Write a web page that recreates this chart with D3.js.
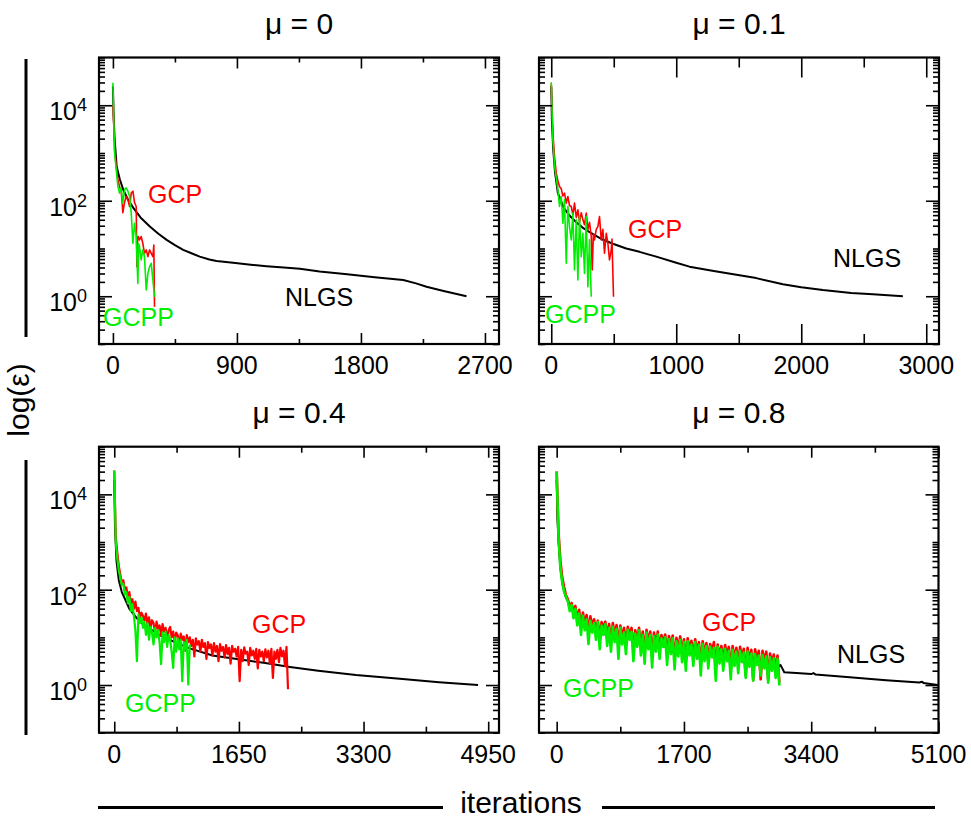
<!DOCTYPE html>
<html><head><meta charset="utf-8">
<script src="https://cdn.jsdelivr.net/npm/d3@7"></script>
<style>
body{margin:0;background:#fff;}
text{font-family:"Liberation Sans",Arial,Helvetica,sans-serif;fill:#000;}
</style></head><body>
<svg id="c" width="971" height="821"></svg>
<script>
// ---------------- DATA (log10 of the error ε vs iteration) ----------------
const panelTitles = ["μ = 0", "μ = 0.1", "μ = 0.4", "μ = 0.8"];
const xMajorTicks = [[0,900,1800,2700],[0,1000,2000,3000],[0,1650,3300,4950],[0,1700,3400,5100]];
const xMinorTicks = [[450,1350,2250],[500,1500,2500],[825,2475,4125],[850,2550,4250]];
const yMajorTicks = [1, 100, 10000];
const yMajorExp = ["0","2","4"];

// μ = 0
const mu0_nlgs_iter = [0,5,12,27,50,75,110,148,200,268,330,390,450,510,570,630,700,752,872,1000,1115,1240,1357,1500,1700,1900,2107,2200,2276,2400,2566];
const mu0_nlgs_log  = [4.4,3.8,3.3,2.72,2.45,2.23,2.02,1.85,1.65,1.46,1.31,1.18,1.07,0.97,0.9,0.83,0.77,0.74,0.70,0.66,0.63,0.60,0.575,0.52,0.46,0.40,0.34,0.27,0.20,0.11,0.0];
const mu0_gcp_iter = [0,6,12,24,36,48,60,66,72,84,96,109,121,133,145,157,169,174,180,184,193,205,217,229,242,254,266,278,290,297,302];
const mu0_gcp_log  = [4.0,3.6,3.07,2.72,2.44,2.3,2.2,2.0,1.75,1.96,2.09,2.02,1.88,2.16,2.2,1.96,1.88,0.62,1.2,1.25,1.18,1.25,1.11,0.9,0.97,0.83,0.97,0.9,0.83,1.07,-0.22];
const mu0_gcpp_iter = [0,6,12,24,36,48,60,72,84,96,109,121,133,145,157,169,181,187,193,205,217,229,242,254,266,278,290,302];
const mu0_gcpp_log  = [4.47,3.7,3.0,2.65,2.3,2.16,2.27,1.95,2.23,2.27,2.2,2.09,1.74,1.11,1.53,1.25,0.27,1.1,1.04,0.76,0.97,0.83,0.13,0.48,0.62,0.69,0.34,-0.01];

// μ = 0.1
const mu01_nlgs_iter = [0,5,15,30,53,100,150,200,260,320,400,493,600,706,840,1000,1106,1300,1506,1640,1853,2000,2173,2400,2573,2813];
const mu01_nlgs_log  = [4.4,3.7,3.1,2.6,2.16,1.85,1.68,1.55,1.42,1.32,1.2,1.1,1.0,0.93,0.83,0.7,0.62,0.53,0.44,0.38,0.25,0.19,0.13,0.07,0.04,0.0];
const mu01_gcp_iter = [0,13,27,40,53,66,80,93,106,120,133,146,160,173,186,200,213,226,240,253,266,280,293,306,320,328,337,346,360,373,386,400,413,426,440,453,466,480,486,493,498];
const mu01_gcp_log  = [4.45,3.42,2.9,2.58,2.42,2.3,2.25,2.1,2.16,1.95,2.09,1.9,1.88,1.7,1.95,1.65,1.81,1.55,1.75,1.6,1.5,1.74,1.4,1.55,1.25,0.55,1.3,1.18,1.4,1.46,1.67,1.18,1.4,0.9,1.32,1.11,0.76,0.97,1.2,0.48,-0.01];
const mu01_gcpp_iter = [0,13,27,53,66,80,93,106,120,133,146,160,173,186,200,213,226,240,253,266,280,293,306,320];
const mu01_gcpp_log  = [4.48,3.28,2.72,2.23,1.88,2.09,1.53,2.02,0.69,1.88,1.46,1.18,1.74,0.55,1.6,0.34,1.67,0.83,1.32,0.48,1.67,0.2,1.18,-0.01];

// μ = 0.4
const mu04_nlgs_iter = [0,10,30,60,100,200,300,400,600,800,1000,1300,1600,2000,2325,2700,3200,3780,4300,4816];
const mu04_nlgs_log  = [4.3,3.3,2.6,2.2,1.95,1.6,1.4,1.25,1.05,0.9,0.77,0.62,0.55,0.46,0.38,0.3,0.21,0.13,0.06,0.0];
const mu04_step = 20;
const mu04_gcp_log = [
 4.5,3.1,2.78,2.5,2.32,2.14,2.2,2.0,2.05,1.85,
 1.95,1.72,1.8,1.6,1.75,1.55,1.62,1.4,1.52,1.45,
 1.35,1.5,1.28,1.42,1.2,1.36,1.3,1.1,1.33,1.18,
 1.25,1.05,1.28,1.12,1.2,0.95,1.15,1.22,1.0,1.12,
 0.9,1.1,1.05,0.8,1.08,0.95,1.02,0.72,1.05,0.9,
 1.0,0.82,0.95,0.6,0.98,0.85,0.92,0.7,0.95,0.8,
 0.88,0.55,0.9,0.78,0.85,0.62,0.88,0.7,0.82,0.5,
 0.86,0.72,0.8,0.58,0.84,0.65,0.78,0.45,0.82,0.7,
 0.76,0.6,0.8,0.08,0.74,0.5,0.79,0.66,0.7,0.42,
 0.78,0.62,0.72,0.55,0.76,0.35,0.74,0.6,0.7,0.5,
 0.75,0.58,0.72,0.45,0.76,0.15,0.7,0.55,0.74,0.48,
 0.78,0.6,0.72,0.4,0.8,-0.09];
const mu04_gcpp_log = [
 4.5,3.0,2.65,2.4,2.25,2.1,2.12,1.9,1.95,1.72,
 1.85,1.55,1.7,1.45,1.14,0.5,1.48,1.3,1.42,1.2,
 1.32,1.05,1.3,0.95,1.22,1.1,0.85,1.2,1.0,1.15,
 0.9,0.44,1.1,0.9,1.12,0.8,1.05,0.95,0.7,0.36,
 1.0,0.7,0.98,0.75,0.95,0.08,0.9,0.75,0.95,0.01,0.85];

// μ = 0.8
const mu08_nlgs_iter = [0,10,25,50,80,120,200,300,400,600,850,1300,1750,2200,2600,2977,2990,3010,3040,3200,3400,3430,3460,3955,4400,4844,4880,4900,5089];
const mu08_nlgs_log  = [4.3,3.5,3.0,2.45,2.1,1.85,1.6,1.45,1.32,1.15,1.02,0.85,0.72,0.6,0.5,0.4,0.42,0.36,0.27,0.25,0.23,0.25,0.22,0.16,0.10,0.055,0.07,0.045,0.0];
const mu08_step = 25;
const mu08_gcp_log = [
 4.48,3.2,2.6,2.25,2.05,1.88,1.8,1.62,1.72,1.5,
 1.66,1.35,1.58,1.2,1.52,1.3,1.47,1.1,1.44,1.25,
 1.38,1.1,1.35,0.95,1.32,1.2,1.33,1.0,1.28,0.9,
 1.3,1.05,1.26,0.8,1.25,1.0,1.2,0.85,1.22,1.05,
 1.2,0.75,1.15,0.95,1.2,0.8,1.12,0.7,1.16,0.9,
 1.12,0.6,1.1,0.85,1.12,0.75,1.05,0.9,1.06,0.65,
 1.03,0.8,1.04,0.55,0.99,0.75,1.02,0.7,0.96,0.5,
 0.98,0.75,0.93,0.6,0.96,0.7,0.9,0.45,0.92,0.65,
 0.88,0.55,0.86,0.7,0.9,0.35,0.85,0.6,0.82,0.5,
 0.84,0.62,0.8,0.3,0.82,0.55,0.78,0.45,0.8,0.6,
 0.76,0.2,0.78,0.5,0.74,0.1,0.75,0.55,0.72,0.12,
 0.72,0.48,0.7,0.1,0.66,0.45,0.64,0.3,0.62,0.05];
const mu08_gcpp_log = [
 4.48,3.1,2.45,2.15,1.95,1.85,1.75,1.55,1.68,1.4,
 1.6,1.25,1.5,1.05,1.45,1.15,1.38,0.86,1.35,1.1,
 1.3,0.95,1.32,0.75,1.25,1.05,1.28,0.82,1.2,0.7,
 1.22,0.9,1.18,0.55,1.2,0.85,1.1,0.65,1.16,0.95,
 1.12,0.5,1.08,0.8,1.15,0.62,1.05,0.45,1.1,0.75,
 1.05,0.37,1.02,0.7,1.06,0.55,0.98,0.8,1.0,0.42,
 0.96,0.65,0.98,0.33,0.92,0.6,0.95,0.48,0.9,0.3,
 0.92,0.62,0.85,0.4,0.9,0.55,0.84,0.2,0.86,0.5,
 0.82,0.35,0.8,0.58,0.78,0.09,0.8,0.45,0.75,0.3,
 0.76,0.5,0.72,0.12,0.74,0.4,0.7,0.25,0.72,0.48,
 0.68,0.15,0.7,0.38,0.66,0.09,0.65,0.42,0.62,0.2,
 0.63,0.35,0.6,0.05,0.58,0.3,0.56,0.15,0.55,-0.01];

const seriesNames = ["NLGS","GCP","GCPP"];
const seriesColors = ["#000000","#ff0000","#00ee00"];

// ---------------- helpers ----------------
const zipPts = (xs, ys) => xs.map((v,i)=>[v, ys[i]]);
const stepPts = (step, ys) => ys.map((v,i)=>[i*step, v]);

const panels = [
  {left:99, right:499, top:57.5, bottom:344, xDom:[-101,2802], majLen:11, minLen:5, yLabels:true, noisyW:1.6,
   series:[zipPts(mu0_nlgs_iter,mu0_nlgs_log), zipPts(mu0_gcp_iter,mu0_gcp_log), zipPts(mu0_gcpp_iter,mu0_gcpp_log)],
   labels:[[285,306],[148,203],[103,326]]},
  {left:539, right:939, top:57.5, bottom:344, xDom:[-98,3102], majLen:20, minLen:10, yLabels:false, noisyW:1.6,
   series:[zipPts(mu01_nlgs_iter,mu01_nlgs_log), zipPts(mu01_gcp_iter,mu01_gcp_log), zipPts(mu01_gcpp_iter,mu01_gcpp_log)],
   labels:[[833,267],[628,238],[545,323]]},
  {left:99, right:499, top:446.7, bottom:732.7, xDom:[-202,5093], majLen:11, minLen:6, yLabels:true, noisyW:2.2,
   series:[zipPts(mu04_nlgs_iter,mu04_nlgs_log), stepPts(mu04_step,mu04_gcp_log), stepPts(mu04_step,mu04_gcpp_log)],
   labels:[null,[252,633],[125,712]]},
  {left:539, right:938.5, top:446.7, bottom:732.7, xDom:[-236,5100], majLen:11, minLen:6, yLabels:false, noisyW:2.6,
   series:[zipPts(mu08_nlgs_iter,mu08_nlgs_log), stepPts(mu08_step,mu08_gcp_log), stepPts(mu08_step,mu08_gcpp_log)],
   labels:[[837,663],[702,631],[563,697]]}
];

const yMinor = [];
for (let n=-1; n<=4; n++) for (let k=1; k<=9; k++) {
  const v = k*Math.pow(10,n);
  if (!(k===1 && n%2===0)) yMinor.push(v);
}
yMinor.push(1e5);

const svg = d3.select("#c");

panels.forEach((p, pi) => {
  const x = d3.scaleLinear().domain(p.xDom).range([p.left, p.right]);
  const y = d3.scaleLog().domain([0.1, 1e5]).range([p.bottom, p.top]);
  const g = svg.append("g");

  // series
  const line = d3.line().x(d=>x(d[0])).y(d=>y(Math.pow(10,d[1])));
  p.series.forEach((pts, si) => {
    g.append("path").attr("d", line(pts)).attr("fill","none")
      .attr("stroke", seriesColors[si]).attr("stroke-width", si===0?2:p.noisyW)
      .attr("stroke-linejoin","round");
  });

  // ticks (inward on all four sides)
  const ax = (gen, tr) => g.append("g").attr("transform", tr).call(gen)
      .call(a => { a.select(".domain").remove(); a.selectAll("line").attr("stroke-width",1.6); });
  ax(d3.axisRight(y).tickValues(yMajorTicks).tickSize(13).tickFormat(""), `translate(${p.left},0)`);
  ax(d3.axisRight(y).tickValues(yMinor).tickSize(6).tickFormat(""), `translate(${p.left},0)`);
  ax(d3.axisLeft(y).tickValues(yMajorTicks).tickSize(13).tickFormat(""), `translate(${p.right},0)`);
  ax(d3.axisLeft(y).tickValues(yMinor).tickSize(6).tickFormat(""), `translate(${p.right},0)`);
  ax(d3.axisTop(x).tickValues(xMajorTicks[pi]).tickSize(p.majLen).tickFormat(""), `translate(0,${p.bottom})`);
  ax(d3.axisTop(x).tickValues(xMinorTicks[pi]).tickSize(p.minLen).tickFormat(""), `translate(0,${p.bottom})`);
  ax(d3.axisBottom(x).tickValues(xMajorTicks[pi]).tickSize(p.majLen).tickFormat(""), `translate(0,${p.top})`);
  ax(d3.axisBottom(x).tickValues(xMinorTicks[pi]).tickSize(p.minLen).tickFormat(""), `translate(0,${p.top})`);

  // frame
  g.append("rect").attr("x",p.left).attr("y",p.top).attr("width",p.right-p.left).attr("height",p.bottom-p.top)
    .attr("fill","none").attr("stroke","#000").attr("stroke-width",2.2);

  // x tick labels
  xMajorTicks[pi].forEach(v => {
    g.append("text").attr("x", x(v)).attr("y", p.bottom+30).attr("text-anchor","middle")
      .attr("font-size",25).text(v);
  });
  // y tick labels
  if (p.yLabels) {
    yMajorTicks.forEach((v,i) => {
      const t = g.append("text").attr("x", p.left-12).attr("y", y(v)+15).attr("text-anchor","end").attr("font-size",25);
      t.append("tspan").text("10");
      t.append("tspan").attr("dy",-9).attr("font-size",18).text(yMajorExp[i]);
    });
  }
  // title
  g.append("text").attr("x",(p.left+p.right)/2).attr("y",p.top-24).attr("text-anchor","middle")
    .attr("font-size",30).text(panelTitles[pi]);
  // series labels
  p.labels.forEach((l, si) => {
    if (!l) return;
    g.append("text").attr("x",l[0]).attr("y",l[1]).attr("font-size",25)
      .style("fill", seriesColors[si]).text(seriesNames[si]);
  });
});

// shared axis labels with rules
svg.append("line").attr("x1",26).attr("x2",26).attr("y1",59).attr("y2",337).attr("stroke","#000").attr("stroke-width",3);
svg.append("line").attr("x1",26).attr("x2",26).attr("y1",460).attr("y2",735).attr("stroke","#000").attr("stroke-width",3);
svg.append("text").attr("transform","translate(29,400) rotate(-90)").attr("text-anchor","middle")
  .attr("font-size",30).text("log(ε)");
svg.append("line").attr("x1",98).attr("x2",443).attr("y1",807.5).attr("y2",807.5).attr("stroke","#000").attr("stroke-width",3);
svg.append("line").attr("x1",602).attr("x2",935).attr("y1",807.5).attr("y2",807.5).attr("stroke","#000").attr("stroke-width",3);
svg.append("text").attr("x",521).attr("y",813).attr("text-anchor","middle").attr("font-size",30).text("iterations");
</script>
</body></html>
